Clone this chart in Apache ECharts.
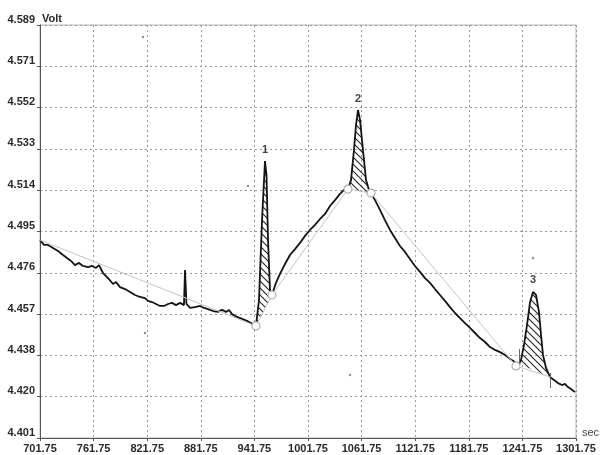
<!DOCTYPE html>
<html>
<head>
<meta charset="utf-8">
<title>Volt trace</title>
<script src="https://cdn.jsdelivr.net/npm/echarts@6/dist/echarts.min.js"></script>
<style>
  html, body { margin: 0; padding: 0; background: #fff; }
  #chart { width: 600px; height: 455px; }
</style>
</head>
<body>
<div id="chart"></div>
<script>
// axis ticks (axis runs from 701.75 s / 4.401 V, plotted as offsets so ticks start at 0)
const X0 = 701.75, X_STEP = 60;
const Y0 = 4.401, Y_STEP = 0.0188;
const xTickLabels = ['701.75', '761.75', '821.75', '881.75', '941.75', '1001.75', '1061.75', '1121.75', '1181.75', '1241.75', '1301.75'];
const yTickLabels = ['4.401', '4.420', '4.438', '4.457', '4.476', '4.495', '4.514', '4.533', '4.552', '4.571', '4.589'];

// measured trace
const traceSec = [
  701.8, 706.2, 710.7, 716.3, 721.9, 727.5, 732.0, 736.5, 740.9, 745.4,
  749.9, 755.5, 760.0, 764.4, 767.8, 772.3, 777.9, 783.5, 786.8, 791.3,
  796.9, 802.5, 808.1, 813.7, 819.3, 822.6, 827.1, 831.6, 836.1, 840.6,
  845.0, 849.5, 854.0, 858.5, 862.9, 864.1, 865.7, 869.7, 875.3, 880.9,
  885.3, 889.8, 895.4, 901.0, 905.5, 910.0, 913.3, 916.7, 922.3, 927.9,
  933.5, 937.9, 943.5,
  946.9, 950.3, 953.6, 955.3, 957.0, 959.2, 961.4,
  965.9, 970.4, 976.0, 981.6, 987.2, 992.8, 998.4, 1004.0, 1009.6, 1015.2,
  1020.8, 1026.4, 1032.0, 1037.6, 1042.0, 1046.5,
  1049.9, 1053.2, 1055.5, 1057.7, 1060.0, 1063.3, 1066.7, 1070.0, 1072.3,
  1076.8, 1082.3, 1087.9, 1093.5, 1099.1, 1104.7, 1110.3, 1115.9, 1121.5, 1127.1,
  1132.7, 1138.3, 1143.9, 1149.5, 1155.1, 1160.7, 1166.3, 1171.9, 1177.5, 1183.1,
  1188.7, 1194.3, 1199.9, 1205.5, 1211.1, 1216.7, 1222.3, 1227.9, 1233.5, 1237.9,
  1240.2, 1243.5, 1246.9, 1250.3, 1253.6, 1257.0, 1260.3, 1262.6, 1264.8, 1268.2, 1272.6,
  1277.1, 1281.6, 1286.1, 1289.4, 1292.8, 1296.2, 1300.6
];
const traceVolt = [
  4.4911, 4.4889, 4.4889, 4.4875, 4.4861, 4.4843, 4.4829, 4.4816, 4.4797, 4.4807,
  4.4793, 4.4788, 4.4793, 4.4784, 4.4797, 4.4761, 4.4738, 4.4711, 4.4720, 4.4697,
  4.4688, 4.4675, 4.4661, 4.4652, 4.4647, 4.4634, 4.4629, 4.4620, 4.4611, 4.4611,
  4.4620, 4.4625, 4.4615, 4.4625, 4.4615, 4.4775, 4.4620, 4.4602, 4.4606, 4.4611,
  4.4602, 4.4597, 4.4588, 4.4584, 4.4593, 4.4584, 4.4593, 4.4574, 4.4561, 4.4552,
  4.4543, 4.4533, 4.4520,
  4.4638, 4.5002, 4.5271, 4.5207, 4.4911, 4.4684, 4.4661,
  4.4716, 4.4757, 4.4802, 4.4843, 4.4870, 4.4898, 4.4930, 4.4957, 4.4980, 4.5007,
  4.5030, 4.5066, 4.5093, 4.5121, 4.5139, 4.5143,
  4.5184, 4.5321, 4.5435, 4.5503, 4.5458, 4.5321, 4.5184, 4.5139, 4.5125,
  4.5093, 4.5048, 4.5002, 4.4957, 4.4920, 4.4884, 4.4857, 4.4825, 4.4793, 4.4766,
  4.4738, 4.4716, 4.4688, 4.4661, 4.4634, 4.4606, 4.4579, 4.4556, 4.4533, 4.4511,
  4.4488, 4.4465, 4.4447, 4.4424, 4.4411, 4.4401, 4.4388, 4.4370, 4.4356, 4.4347,
  4.4365, 4.4433, 4.4524, 4.4629, 4.4675, 4.4661, 4.4584, 4.4479, 4.4388, 4.4329, 4.4288,
  4.4274, 4.4260, 4.4251, 4.4256, 4.4242, 4.4233, 4.4219
];

// baseline under the peaks (gray), nodes marked with circles
const baseSec = [701.8, 943.5, 961.4, 1046.5, 1072.3, 1234.6, 1272.6];
const baseVolt = [4.4911, 4.4520, 4.4661, 4.5143, 4.5125, 4.4338, 4.4288];
const baseCircle = [false, true, true, true, true, true, false];

// peaks: index ranges into the trace
const peakNames = ['1', '2', '3'];
const peakRanges = [[52, 59], [75, 84], [114, 125]];

// integration limit marks at peak 3
const limitSec = [1238.0, 1272.6];
const limitLow = [4.4347, 4.4238];
const limitHigh = [4.4415, 4.4306];

// stray specks on the scan
const speckSec = [817.0, 934.6, 819.3, 1048.8, 1253.6];
const speckVolt = [4.5835, 4.5157, 4.4488, 4.4297, 4.4829];

const pt = (t, v) => [t - X0, v - Y0];
const tracePts = traceSec.map((t, i) => pt(t, traceVolt[i]));

const peakTops = peakRanges.map(([a, b], k) => {
  let best = a;
  for (let i = a; i <= b; i++) if (traceVolt[i] > traceVolt[best]) best = i;
  return { value: pt(traceSec[best], traceVolt[best]), name: peakNames[k] };
});

function hatchPattern() {
  const s = 7;
  const c = document.createElement('canvas');
  c.width = s; c.height = s;
  const ctx = c.getContext('2d');
  ctx.strokeStyle = '#222';
  ctx.lineWidth = 1.1;
  for (const off of [-s, 0, s]) {
    ctx.beginPath();
    ctx.moveTo(-1, -1 + off);
    ctx.lineTo(s + 1, s + 1 + off);
    ctx.stroke();
  }
  return c;
}
const hatch = hatchPattern();

const font = 'Liberation Sans, Arial, sans-serif';
const labelStyle = { color: '#2a2a2a', fontSize: 11, fontWeight: 'bold', fontFamily: font };

const chart = echarts.init(document.getElementById('chart'), null, { renderer: 'canvas' });
chart.setOption({
  animation: false,
  grid: {
    left: 40, right: 24, top: 25, bottom: 17,
    outerBoundsMode: 'none', containLabel: false,
    show: true, borderColor: '#b5b5b5', borderWidth: 1
  },
  xAxis: {
    type: 'value', min: 0, max: 600, interval: X_STEP,
    name: 'sec', nameLocation: 'end', nameGap: 6, nameMoveOverlap: false,
    nameTextStyle: { ...labelStyle, fontWeight: 'normal', color: '#444', align: 'left', verticalAlign: 'bottom' },
    axisLine: { lineStyle: { color: '#555', width: 1 } },
    axisTick: { show: true, length: 3, lineStyle: { color: '#555' } },
    axisLabel: { ...labelStyle, margin: 5, hideOverlap: false, formatter: (v) => xTickLabels[Math.round(v / X_STEP)] },
    splitLine: { show: true, lineStyle: { color: '#999', type: [2, 3], width: 1 } }
  },
  yAxis: {
    type: 'value', min: 0, max: 0.188, interval: Y_STEP,
    name: 'Volt', nameLocation: 'end', nameGap: 6, nameMoveOverlap: false,
    nameTextStyle: { ...labelStyle, align: 'left', verticalAlign: 'middle', padding: [0, 0, 0, 2] },
    axisLine: { show: true, lineStyle: { color: '#555', width: 1 } },
    axisTick: { show: true, length: 3, lineStyle: { color: '#555' } },
    axisLabel: { ...labelStyle, margin: 5, verticalAlign: 'bottom', formatter: (v) => yTickLabels[Math.round(v / Y_STEP)] },
    splitLine: { show: true, lineStyle: { color: '#999', type: [2, 3], width: 1 } }
  },
  series: [
    {
      type: 'custom',
      z: 1,
      data: peakRanges.map((r, k) => [k, 0]),
      renderItem: (params, api) => {
        const [a, b] = peakRanges[params.dataIndex];
        const points = [];
        for (let i = a; i <= b; i++) points.push(api.coord(tracePts[i]));
        return { type: 'polygon', shape: { points }, style: { fill: { image: hatch, repeat: 'repeat' }, stroke: null } };
      }
    },
    {
      type: 'line',
      z: 2,
      data: tracePts,
      symbol: 'none',
      lineStyle: { color: '#141414', width: 1.8 },
      markLine: {
        symbol: 'none', silent: true, label: { show: false },
        lineStyle: { color: '#666', width: 1, type: 'solid' },
        data: limitSec.map((t, i) => [{ coord: pt(t, limitLow[i]) }, { coord: pt(t, limitHigh[i]) }])
      }
    },
    {
      type: 'line',
      z: 3,
      data: baseSec.map((t, i) => ({ value: pt(t, baseVolt[i]), symbol: baseCircle[i] ? 'circle' : 'none' })),
      symbolSize: 8,
      showSymbol: true,
      itemStyle: { color: '#fff', borderColor: '#b0b0b0', borderWidth: 1.2 },
      lineStyle: { color: '#c4c4c4', width: 1 }
    },
    {
      type: 'scatter',
      z: 4,
      data: peakTops,
      symbolSize: 0,
      label: { show: true, position: 'top', distance: 6, formatter: (p) => p.name, ...labelStyle, color: '#111' }
    },
    {
      type: 'scatter',
      z: 4,
      data: speckSec.map((t, i) => pt(t, speckVolt[i])),
      symbolSize: 2.5,
      itemStyle: { color: '#777' }
    }
  ]
});
</script>
</body>
</html>
